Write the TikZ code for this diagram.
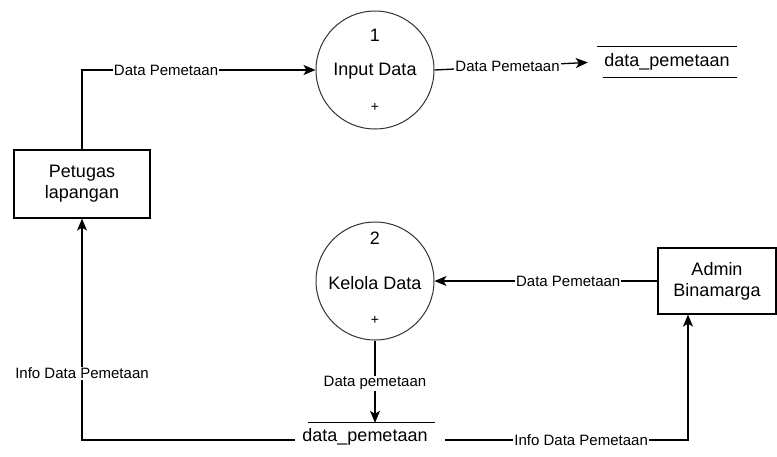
\documentclass[tikz,border=0pt]{standalone}
\usepackage{fontspec}
\setmainfont{Liberation Sans}
\usetikzlibrary{arrows.meta,calc}
\begin{document}
\begin{tikzpicture}[x=1pt,y=-1pt,
  nodefont/.style={font=\fontsize{18}{21}\selectfont},
  process/.style={circle,draw=black!80,line width=1pt,minimum size=118pt,inner sep=0pt},
  entity/.style={rectangle,draw,line width=1.2pt,align=center,nodefont,inner sep=0pt},
  storebox/.style={rectangle,inner sep=0pt},
  flow/.style={line width=1.3pt,-{Stealth[length=12pt,width=10pt,inset=3pt]}},
  flowlabel/.style={fill=white,inner sep=1pt,font=\fontsize{15}{17}\selectfont}
]
\useasboundingbox (0,0) rectangle (777,456);

% processes
\node[process] (p1) at (375,70) {};
\node[nodefont] at ($(p1.center)+(0,-35)$) {1};
\node[nodefont] at ($(p1.center)+(0,1)$) {Input Data};
\node[font=\fontsize{14}{16}\selectfont] at ($(p1.center)+(0,37)$) {+};

\node[process] (p2) at (375,281) {};
\node[nodefont] at ($(p2.center)+(0,-43)$) {2};
\node[nodefont] at ($(p2.center)+(0,2)$) {Kelola Data};
\node[font=\fontsize{14}{16}\selectfont] at ($(p2.center)+(0,39)$) {+};

% external entities
\node[entity,minimum width=136pt,minimum height=68pt] (petugas) at (82,184) {Petugas\\lapangan};
\node[entity,minimum width=118pt,minimum height=66pt] (admin) at (717,281) {Admin\\Binamarga};

% data stores
\node[storebox,minimum width=140pt,minimum height=31pt,nodefont] (store1) at (667,62) {data\_pemetaan};
\draw[line width=1.2pt] (store1.north west) -- (store1.north east);
\draw[line width=1.2pt] ([xshift=6pt]store1.south west) -- (store1.south east);

\node[storebox,minimum width=150pt,minimum height=34pt] (store2) at (370,440) {};
\node[nodefont] at (365,437) {data\_pemetaan};
\draw[line width=1.2pt] ([xshift=-62pt]store2.north) -- ([xshift=65pt]store2.north);

% data flows
\draw[flow] (petugas.north) |- node[flowlabel,pos=0.68] {Data Pemetaan} (p1.west);
\draw[flow,shorten >=9pt] (p1.east) -- node[flowlabel,pos=0.45] {Data Pemetaan} (store1.west);
\draw[flow] (admin.west) -- node[flowlabel,pos=0.4] {Data Pemetaan} (p2.east);
\draw[flow] (p2.south) -- node[flowlabel,pos=0.52] {Data pemetaan} (p2.south |- store2.north);
\draw[flow] (store2.west) -| node[flowlabel,pos=0.65] {Info Data Pemetaan} (petugas.south);
\draw[flow] (store2.east) -| node[flowlabel,pos=0.28] {Info Data Pemetaan} ([xshift=-29pt]admin.south);
\end{tikzpicture}
\end{document}
